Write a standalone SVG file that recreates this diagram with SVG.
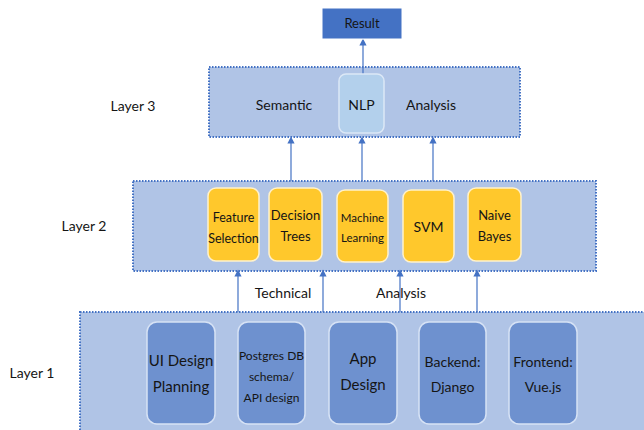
<svg xmlns="http://www.w3.org/2000/svg" width="644" height="430" viewBox="0 0 644 430">
  <defs>
    <marker id="arrow" viewBox="0 0 8 8" refX="4" refY="4" markerWidth="6" markerHeight="6" orient="auto">
      <path d="M0,0 L8,4 L0,8 z" fill="#4472C4"/>
    </marker>
    <style>
      text { font-family: Lato, "Open Sans", "Liberation Sans", sans-serif; fill: #151515; text-anchor: middle; }
      .layer { fill: #B0C4E6; stroke: #4472C4; stroke-width: 2; stroke-dasharray: 1.5 1.5; }
      .algo { fill: #FFC82C; stroke: #FFF2CC; stroke-width: 1.5; }
      .task { fill: #6E91CF; stroke: #D6E2F5; stroke-width: 1.5; }
      .lbl { font-size: 14px; }
      .conn line { stroke: #4472C4; stroke-width: 1.2; marker-end: url(#arrow); }
    </style>
  </defs>

  <rect width="644" height="430" fill="#fff"/>

  <!-- layer bands -->
  <g id="layer3">
    <rect class="layer" x="209" y="67" width="311" height="70"/>
    <text class="lbl" x="284" y="110">Semantic</text>
    <text class="lbl" x="431" y="110">Analysis</text>
  </g>
  <g id="layer2">
    <rect class="layer" x="133" y="181" width="463" height="90"/>
  </g>
  <g id="layer1">
    <rect class="layer" x="80" y="312" width="570" height="125"/>
  </g>

  <text class="lbl" x="133" y="111">Layer 3</text>
  <text class="lbl" x="84" y="231">Layer 2</text>
  <text class="lbl" x="32" y="378">Layer 1</text>
  <text class="lbl" x="283" y="298">Technical</text>
  <text class="lbl" x="401" y="298">Analysis</text>

  <!-- connectors -->
  <g id="connectors" class="conn">
    <line x1="363" y1="74" x2="363" y2="42"/>
    <line x1="291" y1="181" x2="291" y2="140"/>
    <line x1="362" y1="181" x2="362" y2="140"/>
    <line x1="433" y1="181" x2="433" y2="140"/>
    <line x1="238" y1="312" x2="238" y2="273"/>
    <line x1="323" y1="312" x2="323" y2="273"/>
    <line x1="400" y1="312" x2="400" y2="273"/>
    <line x1="477" y1="312" x2="477" y2="273"/>
  </g>

  <g id="result">
    <rect x="322" y="8" width="80" height="31" fill="#4472C4" stroke="#fff" stroke-width="1"/>
    <text x="362" y="28" font-size="13">Result</text>
  </g>

  <g id="nlp">
    <rect x="339" y="74" width="45" height="59" rx="7" fill="#B3D0EC" stroke="#DCE8F6" stroke-width="1.5"/>
    <text class="lbl" x="361.5" y="110">NLP</text>
  </g>

  <!-- layer 2 algorithms -->
  <g id="feature-selection">
    <rect class="algo" x="208" y="188" width="51" height="73" rx="8"/>
    <text x="233.5" y="222" font-size="12.5">Feature</text>
    <text x="233.5" y="243" font-size="12.5">Selection</text>
  </g>
  <g id="decision-trees">
    <rect class="algo" x="269" y="188" width="53" height="73" rx="8"/>
    <text x="295.5" y="220" font-size="13">Decision</text>
    <text x="295.5" y="241" font-size="13">Trees</text>
  </g>
  <g id="machine-learning">
    <rect class="algo" x="337" y="190" width="51" height="72" rx="8"/>
    <text x="362.5" y="222" font-size="11.5">Machine</text>
    <text x="362.5" y="242" font-size="11.5">Learning</text>
  </g>
  <g id="svm">
    <rect class="algo" x="403" y="190" width="51" height="72" rx="8"/>
    <text x="428.5" y="232" font-size="14">SVM</text>
  </g>
  <g id="naive-bayes">
    <rect class="algo" x="468" y="188" width="53" height="73" rx="8"/>
    <text x="494.5" y="220" font-size="13">Naive</text>
    <text x="494.5" y="241" font-size="13">Bayes</text>
  </g>

  <!-- layer 1 tasks -->
  <g id="ui-design">
    <rect class="task" x="147" y="322" width="68" height="102" rx="10"/>
    <text x="181" y="366" font-size="15">UI Design</text>
    <text x="181" y="392" font-size="15">Planning</text>
  </g>
  <g id="postgres">
    <rect class="task" x="238" y="322" width="67" height="102" rx="10"/>
    <text x="271.5" y="360" font-size="12">Postgres DB</text>
    <text x="271.5" y="381" font-size="12">schema/</text>
    <text x="271.5" y="402" font-size="12">API design</text>
  </g>
  <g id="app-design">
    <rect class="task" x="329" y="322" width="68" height="102" rx="10"/>
    <text x="363" y="364" font-size="15">App</text>
    <text x="363" y="390" font-size="15">Design</text>
  </g>
  <g id="backend">
    <rect class="task" x="419" y="322" width="67" height="102" rx="10"/>
    <text x="452.5" y="367" font-size="14">Backend:</text>
    <text x="452.5" y="392" font-size="14">Django</text>
  </g>
  <g id="frontend">
    <rect class="task" x="509" y="322" width="68" height="102" rx="10"/>
    <text x="543" y="367" font-size="14">Frontend:</text>
    <text x="543" y="392" font-size="14">Vue.js</text>
  </g>
</svg>
